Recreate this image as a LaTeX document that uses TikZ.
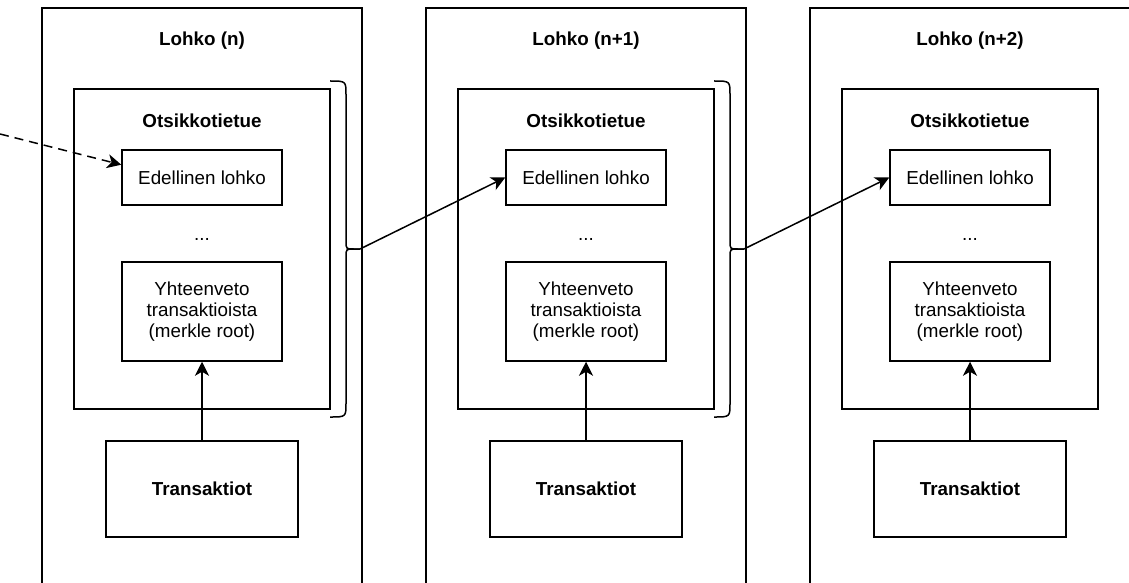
\documentclass[tikz,border=0pt]{standalone}
\usepackage{fontspec}
\setmainfont{Liberation Sans}
\usetikzlibrary{arrows.meta}

\newlength{\du}
\setlength{\du}{0.5pt}

\tikzset{
  line/.style={line width=1.5\du},
  box/.style={draw,line width=1.5\du,inner sep=0pt,align=center,
    font=\fontsize{9.4}{10.6}\selectfont},
  title/.style={inner sep=0pt,font=\fontsize{9.4}{10.6}\selectfont\bfseries},
  dots/.style={inner sep=0pt,font=\fontsize{9.4}{10.6}\selectfont},
  link/.style={line width=1.5\du,-{Stealth[length=7pt,width=7pt,inset=2pt]}},
}

\begin{document}
\begin{tikzpicture}
\pgftransformyscale{-1.000000}
\useasboundingbox (0\du,0\du) rectangle (1129\du,583\du);
% block (n)
\draw[line] (42\du,583\du)--(42\du,8\du)--(362\du,8\du)--(362\du,583\du);
\node[title] (l1) at (202\du,41\du){Lohko (n)};
\node[box,minimum width=256\du,minimum height=320\du] (h1) at (202\du,249\du){};
\node[title] (o1) at (202\du,121\du){Otsikkotietue};
\node[box,minimum width=160\du,minimum height=55\du] (e1) at (202\du,177.5\du){Edellinen lohko};
\node[dots] (d1) at (202\du,239\du){...};
\node[box,minimum width=160\du,minimum height=99\du] (y1) at (202\du,311.5\du){Yhteenveto\\transaktioista\\(merkle root)};
\node[box,minimum width=192\du,minimum height=96\du,font=\fontsize{9.4}{10.6}\selectfont\bfseries] (t1) at (202\du,489\du){Transaktiot};
\coordinate (tip1) at (360\du,249\du);
\draw[line] (330\du,81\du) .. controls (346\du,81\du) .. (346\du,95\du)--(346\du,241\du) .. controls (346\du,249\du) .. (354\du,249\du)--(tip1);
\draw[line] (tip1)--(354\du,249\du) .. controls (346\du,249\du) .. (346\du,257\du)--(346\du,403\du) .. controls (346\du,417\du) .. (330\du,417\du);
% block (n+1)
\draw[line] (426\du,583\du)--(426\du,8\du)--(746\du,8\du)--(746\du,583\du);
\node[title] (l2) at (586\du,41\du){Lohko (n+1)};
\node[box,minimum width=256\du,minimum height=320\du] (h2) at (586\du,249\du){};
\node[title] (o2) at (586\du,121\du){Otsikkotietue};
\node[box,minimum width=160\du,minimum height=55\du] (e2) at (586\du,177.5\du){Edellinen lohko};
\node[dots] (d2) at (586\du,239\du){...};
\node[box,minimum width=160\du,minimum height=99\du] (y2) at (586\du,311.5\du){Yhteenveto\\transaktioista\\(merkle root)};
\node[box,minimum width=192\du,minimum height=96\du,font=\fontsize{9.4}{10.6}\selectfont\bfseries] (t2) at (586\du,489\du){Transaktiot};
\coordinate (tip2) at (744\du,249\du);
\draw[line] (714\du,81\du) .. controls (730\du,81\du) .. (730\du,95\du)--(730\du,241\du) .. controls (730\du,249\du) .. (738\du,249\du)--(tip2);
\draw[line] (tip2)--(738\du,249\du) .. controls (730\du,249\du) .. (730\du,257\du)--(730\du,403\du) .. controls (730\du,417\du) .. (714\du,417\du);
% block (n+2)
\draw[line] (810\du,583\du)--(810\du,8\du)--(1135\du,8\du);
\node[title] (l3) at (970\du,41\du){Lohko (n+2)};
\node[box,minimum width=256\du,minimum height=320\du] (h3) at (970\du,249\du){};
\node[title] (o3) at (970\du,121\du){Otsikkotietue};
\node[box,minimum width=160\du,minimum height=55\du] (e3) at (970\du,177.5\du){Edellinen lohko};
\node[dots] (d3) at (970\du,239\du){...};
\node[box,minimum width=160\du,minimum height=99\du] (y3) at (970\du,311.5\du){Yhteenveto\\transaktioista\\(merkle root)};
\node[box,minimum width=192\du,minimum height=96\du,font=\fontsize{9.4}{10.6}\selectfont\bfseries] (t3) at (970\du,489\du){Transaktiot};
% links
\coordinate (prev) at (0\du,134\du);
\draw[link,dash pattern=on 4.5pt off 3pt] (prev)--(e1.171);
\draw[link] (tip1)--(e2.west);
\draw[link] (tip2)--(e3.west);
\draw[link] (t1.north)--(y1.south);
\draw[link] (t2.north)--(y2.south);
\draw[link] (t3.north)--(y3.south);
\end{tikzpicture}
\end{document}
